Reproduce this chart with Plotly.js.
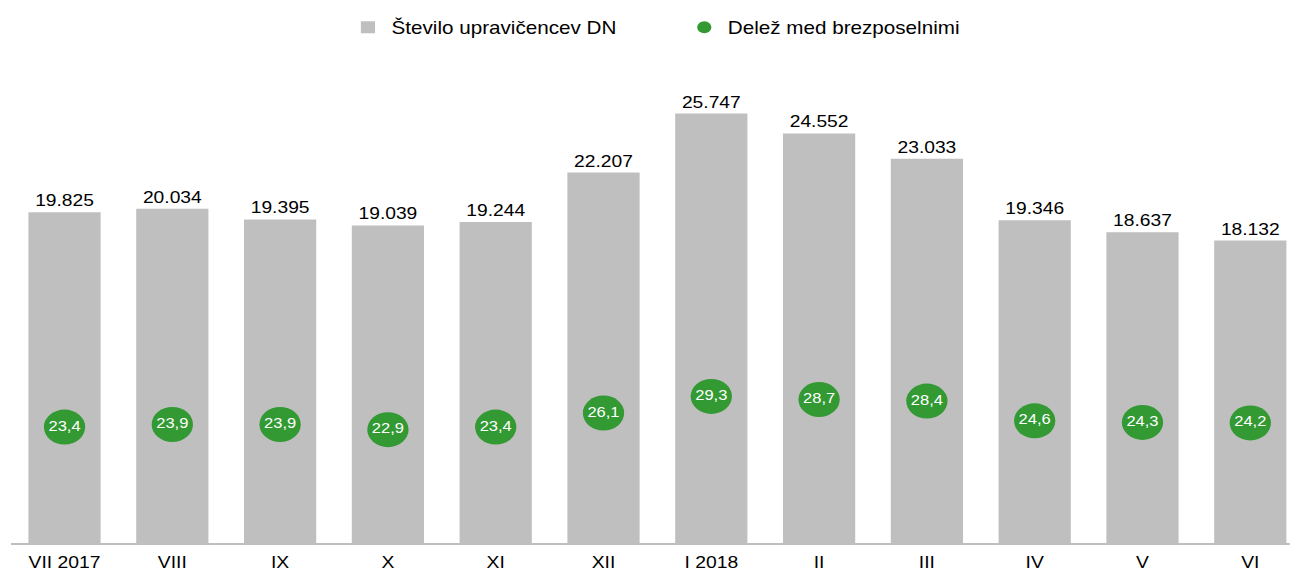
<!DOCTYPE html>
<html>
<head>
<meta charset="utf-8">
<script src="https://cdn.plot.ly/plotly-3.0.1.min.js"></script>
<style>
  html, body { margin: 0; padding: 0; background: #ffffff; overflow: hidden; }
  #chart { width: 1093px; height: 572px; transform: scaleX(1.18); transform-origin: 0 0; }
</style>
</head>
<body>
<div id="chart"></div>
<script>
const categories = ['VII 2017', 'VIII', 'IX', 'X', 'XI', 'XII', 'I 2018', 'II', 'III', 'IV', 'V', 'VI'];
const recipients = [19825, 20034, 19395, 19039, 19244, 22207, 25747, 24552, 23033, 19346, 18637, 18132];
const shareUnemployed = [23.4, 23.9, 23.9, 22.9, 23.4, 26.1, 29.3, 28.7, 28.4, 24.6, 24.3, 24.2];

const FONT = '"Liberation Sans", Arial, sans-serif';

const traces = [
  {
    type: 'bar',
    name: 'Število upravičencev DN',
    x: categories,
    y: recipients,
    marker: { color: '#bfbfbf' },
    texttemplate: '%{y:,.0f}',
    textposition: 'outside',
    textfont: { family: FONT, size: 16.3, color: '#000000' },
    cliponaxis: false,
    hoverinfo: 'x+y'
  },
  {
    type: 'scatter',
    mode: 'markers+text',
    name: 'Delež med brezposelnimi',
    x: categories,
    y: shareUnemployed,
    yaxis: 'y2',
    marker: { color: '#339933', size: 35 },
    texttemplate: '%{y:.1f}',
    textposition: 'middle center',
    textfont: { family: FONT, size: 14, color: '#ffffff' },
    cliponaxis: false
  }
];

const layout = {
  width: 1093,
  height: 572,
  margin: { l: 8.5, r: 0, t: 60, b: 29 },
  paper_bgcolor: '#ffffff',
  plot_bgcolor: '#ffffff',
  separators: ',.',
  font: { family: FONT, size: 16, color: '#000000' },
  bargap: 0.33,
  showlegend: true,
  legend: {
    orientation: 'h',
    xref: 'container', yref: 'container',
    x: 0.267, xanchor: 'left',
    y: 0.952, yanchor: 'middle',
    font: { family: FONT, size: 17.5, color: '#000000' },
    entrywidth: 240,
    itemsizing: 'constant'
  },
  xaxis: {
    type: 'category',
    range: [-0.5, 11.366],
    showgrid: false,
    zeroline: false,
    showline: true,
    linecolor: '#bfbfbf',
    linewidth: 1.5,
    ticks: '',
    ticklabelstandoff: 4,
    automargin: false,
    tickfont: { family: FONT, size: 16.4, color: '#000000' },
    fixedrange: true
  },
  yaxis: {
    range: [0, 28957],
    visible: false,
    showgrid: false,
    zeroline: false,
    fixedrange: true
  },
  yaxis2: {
    overlaying: 'y',
    side: 'right',
    range: [1.1, 94],
    visible: false,
    showgrid: false,
    zeroline: false,
    fixedrange: true
  }
};

Plotly.newPlot('chart', traces, layout, { displayModeBar: false, staticPlot: true });
</script>
</body>
</html>
